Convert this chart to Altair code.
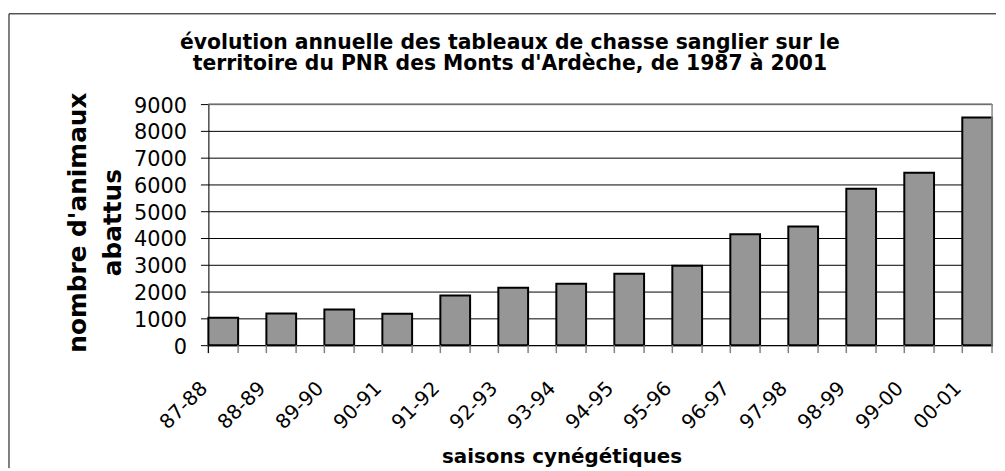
import altair as alt
import pandas as pd

seasons = ["87-88", "88-89", "89-90", "90-91", "91-92", "92-93", "93-94",
           "94-95", "95-96", "96-97", "97-98", "98-99", "99-00", "00-01"]
values = [1020, 1180, 1330, 1170, 1850, 2140, 2290,
          2670, 2960, 4140, 4430, 5840, 6440, 8500]
y_ticks = [0, 1000, 2000, 3000, 4000, 5000, 6000, 7000, 8000, 9000]

title_lines = ["évolution annuelle des tableaux de chasse sanglier sur le",
               "territoire du PNR des Monts d'Ardèche, de 1987 à 2001"]
y_title = ["nombre d'animaux", "abattus"]
x_title = "saisons cynégétiques"

df = pd.DataFrame({"season": seasons, "value": values})
one = pd.DataFrame({"k": [0]})

W, H = 790, 243
FONT = "DejaVu Sans"

xscale = alt.Scale(domain=seasons, paddingInner=0.487, paddingOuter=0, round=False)
yscale = alt.Scale(domain=[0, 9000], nice=False)

base = alt.Chart(df)
single = alt.Chart(one)

bars = base.mark_bar(fill="#969696", stroke="black", strokeWidth=2).encode(
    x=alt.X("season:N", scale=xscale, sort=seasons,
            axis=alt.Axis(title=x_title, labelAngle=-45, labelAlign="right",
                          labelBaseline="middle", labelFont=FONT, labelFontSize=20,
                          labelColor="black", labelPadding=40, labelOffset=-19,
                          ticks=False, domainColor="black", domainWidth=1,
                          titleFont=FONT, titleFontSize=20, titleFontWeight="bold",
                          titleColor="black", titleX=356, titleY=118,
                          titleAlign="center", titleBaseline="alphabetic",
                          grid=False)),
    y=alt.Y("value:Q", scale=yscale,
            axis=alt.Axis(title=y_title, values=y_ticks, format="d",
                          labelFont=FONT, labelFontSize=21, labelColor="black",
                          labelPadding=14, labelOffset=2, tickSize=8, tickColor="black",
                          domainColor="black", domainWidth=1,
                          grid=True, gridColor="black", gridWidth=1,
                          titleFont=FONT, titleFontSize=25, titleFontWeight="bold",
                          titleColor="black", titleX=-144, titleY=119,
                          titleAngle=-90, titleAlign="center", titleBaseline="top",
                          titleLineHeight=35)),
)

tick_l = base.mark_rule(color="#808080", strokeWidth=1.5).encode(
    x=alt.X("season:N", scale=xscale, sort=seasons, bandPosition=0),
    y=alt.value(H), y2=alt.value(H + 8))
tick_r = base.mark_rule(color="#808080", strokeWidth=1.5).encode(
    x=alt.X("season:N", scale=xscale, sort=seasons, bandPosition=1),
    y=alt.value(H), y2=alt.value(H + 8))

yext = single.mark_rule(color="black", strokeWidth=1).encode(
    x=alt.value(0), y=alt.value(H), y2=alt.value(H + 8))

top_border = single.mark_rule(color="#8c8c8c", strokeWidth=1.5).encode(
    x=alt.value(0), x2=alt.value(W), y=alt.value(0))
right_border = single.mark_rule(color="#8c8c8c", strokeWidth=1.5).encode(
    x=alt.value(W), y=alt.value(0), y2=alt.value(H))

frame_top = single.mark_rule(color="black", strokeWidth=1).encode(
    x=alt.value(-201), x2=alt.value(794), y=alt.value(-91))
frame_left = single.mark_rule(color="black", strokeWidth=1).encode(
    x=alt.value(-201), y=alt.value(-91), y2=alt.value(367))

title = single.mark_text(font=FONT, fontSize=20.5, fontWeight="bold", color="black",
                         align="center", baseline="alphabetic", lineHeight=22).encode(
    text=alt.value(title_lines), x=alt.value(304), y=alt.value(-56))

chart = alt.layer(bars, tick_l, tick_r, yext, top_border, right_border,
                  frame_top, frame_left, title).properties(
    width=W, height=H,
    padding={"left": 0, "top": 3, "right": 0, "bottom": 0},
).configure_view(stroke=None).configure(background="white")

chart.save("out.html", embed_options={"renderer": "svg", "actions": False})
